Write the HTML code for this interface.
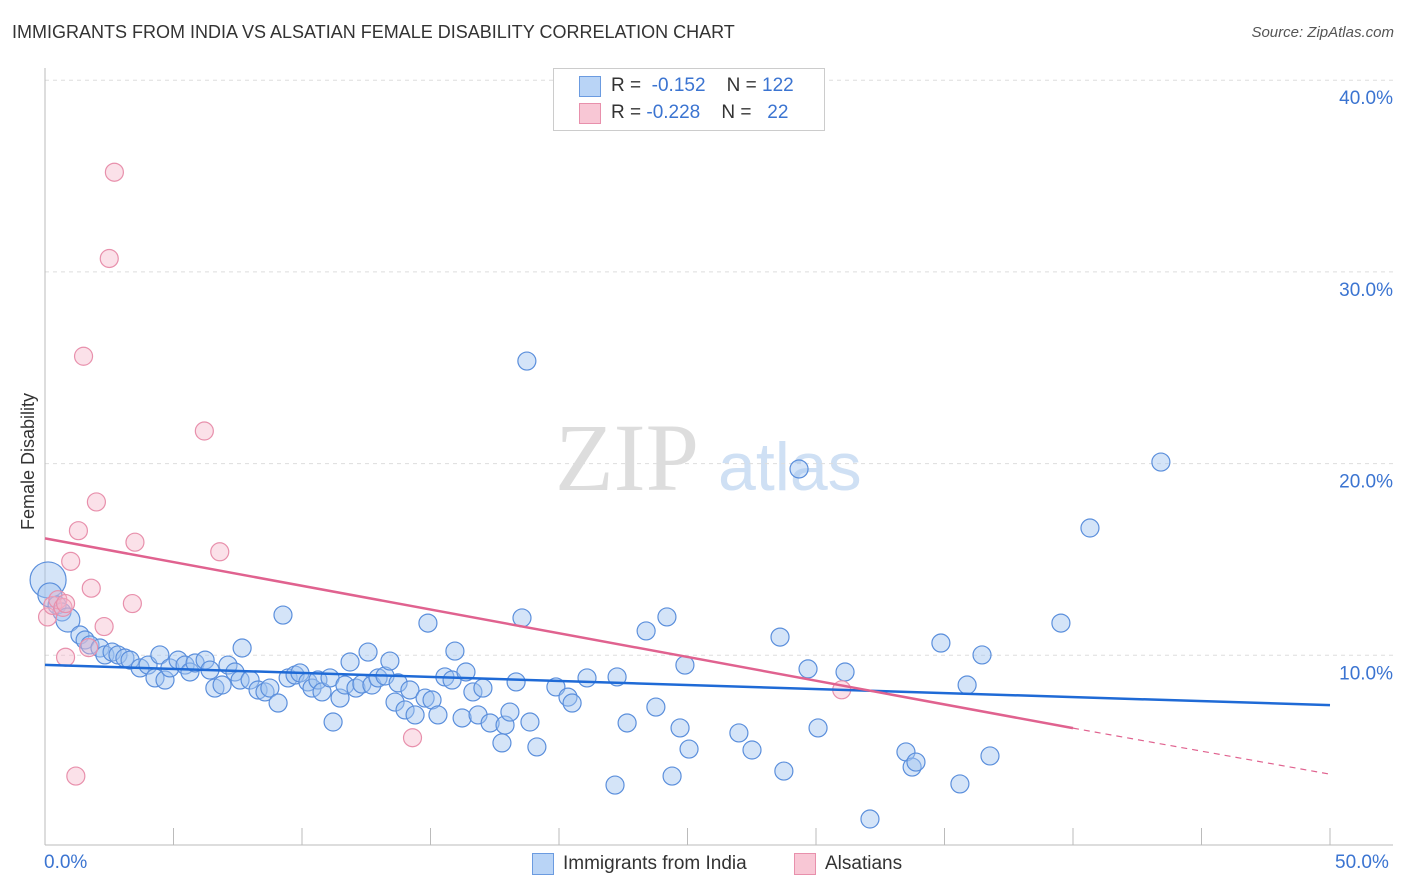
<!DOCTYPE html>
<html><head><meta charset="utf-8"><style>
body{margin:0;background:#fff;font-family:"Liberation Sans",sans-serif;}
#wrap{position:relative;width:1406px;height:892px;overflow:hidden;}
.t{position:absolute;white-space:nowrap;}
</style></head><body>
<div id="wrap">
<div class="t" style="left:12px;top:22px;font-size:18px;color:#333;">IMMIGRANTS FROM INDIA VS ALSATIAN FEMALE DISABILITY CORRELATION CHART</div>
<div class="t" style="right:12px;top:24px;font-size:15px;color:#555;font-style:italic;">Source: ZipAtlas.com</div>
<svg id="svg" width="1406" height="892" style="position:absolute;left:0;top:0"></svg>
</div>
<script>
const blueX=[0.12,0.19,0.47,0.66,0.89,1.36,1.56,1.75,2.14,2.33,2.61,2.84,3.11,3.31,3.70,4.01,4.28,4.47,4.67,4.86,5.18,5.45,5.64,5.84,6.23,6.42,6.61,6.89,7.12,7.39,7.67,7.59,7.98,8.29,8.56,8.75,9.07,9.26,9.46,9.73,9.92,10.23,10.39,10.62,10.78,11.09,11.21,11.48,11.67,11.87,12.10,12.33,12.57,12.72,12.96,13.23,13.42,13.62,13.74,14.01,14.20,14.40,14.79,14.90,15.06,15.29,15.56,15.84,15.95,16.23,16.38,16.65,16.85,17.04,17.32,17.78,17.90,18.09,18.33,18.56,18.87,19.14,19.88,20.35,20.51,21.09,22.18,22.26,22.65,23.39,23.77,24.20,24.40,24.71,24.90,25.06,27.00,27.51,28.60,28.75,29.69,30.08,31.13,32.10,33.50,33.74,33.89,34.86,35.60,35.88,36.46,36.77,39.53,40.66,43.42,29.34,18.75];
const blueY=[13.93,13.15,12.62,12.26,11.84,11.06,10.80,10.54,10.38,10.02,10.17,10.02,9.86,9.75,9.34,9.49,8.82,10.02,8.71,9.34,9.75,9.49,9.13,9.60,9.75,9.23,8.29,8.45,9.49,9.13,10.38,8.71,8.71,8.19,8.09,8.29,7.51,12.10,8.82,8.97,9.08,8.61,8.29,8.71,8.09,8.82,6.52,7.77,8.45,9.65,8.29,8.50,10.17,8.45,8.82,8.92,9.70,7.56,8.56,7.15,8.19,6.89,7.77,11.68,7.67,6.89,8.87,8.71,10.22,6.73,9.13,8.09,6.89,8.29,6.47,5.43,6.36,7.04,8.61,11.95,6.52,5.22,8.35,7.82,7.51,8.82,3.23,8.87,6.47,11.27,7.30,12.00,3.70,6.21,9.49,5.11,5.95,5.06,10.95,3.96,9.29,6.21,9.13,1.46,4.96,4.17,4.43,10.64,3.29,8.45,10.02,4.75,11.68,16.64,20.08,19.72,25.35];
const pinkX=[0.1,0.3,0.5,0.7,0.8,0.8,1.0,1.2,1.3,1.5,1.7,1.8,2.0,2.3,2.5,2.7,3.4,3.5,6.2,6.8,14.3,31.0];
const pinkY=[12.0,12.6,12.9,12.5,12.7,9.9,14.9,3.7,16.5,25.6,10.4,13.5,18.0,11.5,30.7,35.2,12.7,15.9,21.7,15.4,5.7,8.2];
const blueLine=[9.5,7.4];
const pinkLine=[16.1,6.2,3.8];
const yTicks=[10,20,30,40];
const X0=45,X1=1330,Y0=847,PY=19.17;
const sx=v=>X0+(X1-X0)*v/50, sy=v=>Y0-v*PY;
const svg=document.getElementById('svg');
const NS='http://www.w3.org/2000/svg';
function mk(tag,at){const e=document.createElementNS(NS,tag);for(const k in at)e.setAttribute(k,at[k]);svg.appendChild(e);return e;}
let w=mk('text',{x:555,y:490,'font-size':96,'font-family':'Liberation Serif, serif',fill:'#ddd'});w.textContent='ZIP';


w=mk('text',{x:718,y:490,'font-size':68,'font-family':'Liberation Sans, sans-serif',fill:'#cfe0f4'});w.textContent='atlas';


yTicks.forEach(t=>{
 let g=mk('line',{x1:45,x2:1393,y1:sy(t),y2:sy(t),stroke:'#ddd','stroke-dasharray':'4,4'});
 
 
 let l=mk('text',{x:1393,y:sy(t)+24,'text-anchor':'end','font-size':19,fill:'#3b74d1'});l.textContent=t.toFixed(1)+'%';
 
 
});
let a=mk('line',{x1:45,x2:45,y1:68,y2:845,stroke:'#bbb'});


a=mk('line',{x1:45,x2:1393,y1:845,y2:845,stroke:'#bbb'});


for(let i=0;i<=10;i++){let t=mk('line',{x1:sx(i*5),x2:sx(i*5),y1:828,y2:845,stroke:'#bbb'});
 
 }
for(let i=0;i<blueX.length;i++){let r=i===0?18:(i===1||i===4?12:9);
 let c=mk('circle',{cx:sx(blueX[i]),cy:sy(blueY[i]),r:r,fill:'rgba(160,196,240,0.45)',stroke:'#5b8fdc','stroke-width':1.2});
 
 }
for(let i=0;i<pinkX.length;i++){let c=mk('circle',{cx:sx(pinkX[i]),cy:sy(pinkY[i]),r:9,fill:'rgba(245,180,200,0.4)',stroke:'#e890ac','stroke-width':1.2});
 
 }
let bl=mk('line',{x1:sx(0),y1:sy(blueLine[0]),x2:sx(50),y2:sy(blueLine[1]),stroke:'#1f6ad6','stroke-width':2.5});


let pl=mk('line',{x1:sx(0),y1:sy(pinkLine[0]),x2:sx(40),y2:sy(pinkLine[1]),stroke:'#e0628f','stroke-width':2.5});


let pd=mk('line',{x1:sx(40),y1:sy(pinkLine[1]),x2:sx(50),y2:sy(pinkLine[2]),stroke:'#e0628f','stroke-width':1.2,'stroke-dasharray':'6,5'});


</script>
<div class="t" style="left:18px;top:530px;transform:rotate(-90deg);transform-origin:0 0;font-size:18px;color:#333;">Female Disability</div>
<div class="t" style="left:44px;top:852px;font-size:19px;color:#3b74d1;">0.0%</div>
<div class="t" style="left:1335px;top:852px;font-size:19px;color:#3b74d1;">50.0%</div>
<div class="t" style="left:532px;top:853px;width:20px;height:20px;background:#b9d4f6;border:1px solid #6b9be0;"></div>
<div class="t" style="left:563px;top:853px;font-size:19px;color:#333;">Immigrants from India</div>
<div class="t" style="left:794px;top:853px;width:20px;height:20px;background:#f8c7d5;border:1px solid #e890ac;"></div>
<div class="t" style="left:825px;top:853px;font-size:19px;color:#333;">Alsatians</div>
<div class="t" style="left:553px;top:68px;width:270px;height:61px;border:1px solid #ccc;background:#fff;">
 <div class="t" style="left:25px;top:7px;width:20px;height:19px;background:#b9d4f6;border:1px solid #6b9be0;"></div>
 <div class="t" style="left:57px;top:6px;font-size:19px;color:#333;">R = <span style="color:#3b74d1">&nbsp;-0.152</span>&nbsp;&nbsp;&nbsp; N = <span style="color:#3b74d1">122</span></div>
 <div class="t" style="left:25px;top:34px;width:20px;height:19px;background:#f8c7d5;border:1px solid #e890ac;"></div>
 <div class="t" style="left:57px;top:33px;font-size:19px;color:#333;">R = <span style="color:#3b74d1">-0.228</span>&nbsp;&nbsp;&nbsp; N = <span style="color:#3b74d1">&nbsp;&nbsp;22</span></div>
</div>
</body></html>
